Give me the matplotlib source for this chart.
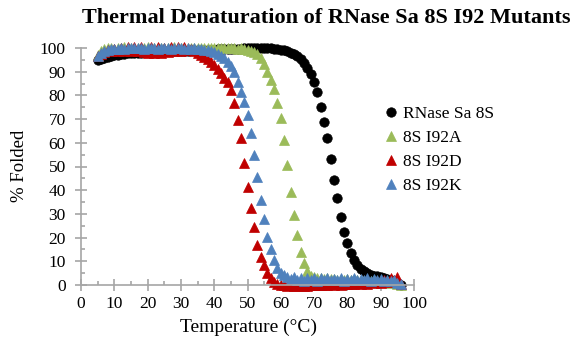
import matplotlib
matplotlib.use("Agg")
import matplotlib.pyplot as plt
from matplotlib.ticker import MultipleLocator

plt.rcParams['font.family'] = ['Liberation Serif', 'DejaVu Serif']

# temperature (C) for every reading
temps = [5, 6, 7, 8, 9, 10, 11, 12, 13, 14,
         15, 16, 17, 18, 19, 20, 21, 22, 23, 24,
         25, 26, 27, 28, 29, 30, 31, 32, 33, 34,
         35, 36, 37, 38, 39, 40, 41, 42, 43, 44,
         45, 46, 47, 48, 49, 50, 51, 52, 53, 54,
         55, 56, 57, 58, 59, 60, 61, 62, 63, 64,
         65, 66, 67, 68, 69, 70, 71, 72, 73, 74,
         75, 76, 77, 78, 79, 80, 81, 82, 83, 84,
         85, 86, 87, 88, 89, 90, 91, 92, 93, 94,
         95, 96]

# % folded
wt_8s = [95.0, 95.5, 95.9, 96.3, 96.6, 96.9, 97.1, 97.3, 97.5, 97.7,
         97.8, 97.9, 98.0, 98.1, 98.2, 98.3, 98.4, 98.4, 98.5, 98.5,
         98.6, 98.6, 98.7, 98.7, 98.8, 98.8, 98.9, 98.9, 99.0, 99.0,
         99.1, 99.1, 99.2, 99.2, 99.3, 99.3, 99.4, 99.4, 99.5, 99.5,
         99.6, 99.6, 99.7, 99.7, 99.8, 99.8, 99.9, 99.9, 100.0, 100.0,
         100.0, 99.9, 99.8, 99.7, 99.5, 99.3, 99.0, 98.6, 98.1, 97.4,
         96.5, 95.3, 93.7, 91.6, 88.9, 85.6, 81.6, 75.2, 68.9, 61.9,
         53.0, 44.3, 36.6, 28.8, 22.5, 17.6, 13.6, 10.6, 8.4, 6.8,
         5.7, 4.9, 4.3, 3.9, 3.6, 3.3, 3.0, 2.7, 2.3, 1.8,
         1.0, 0.0]

i92a = [97.0, 98.6, 99.5, 99.8, 100.2, 99.7, 100.1, 99.9, 100.3, 99.8,
        100.1, 99.9, 100.2, 99.7, 100.0, 100.3, 99.8, 100.1, 99.9, 100.2,
        99.8, 100.1, 100.0, 100.3, 99.8, 100.1, 99.9, 100.2, 99.8, 100.0,
        100.2, 99.9, 100.1, 99.8, 100.2, 99.9, 100.1, 99.8, 100.0, 100.2,
        99.8, 100.0, 99.7, 99.9, 99.5, 99.3, 98.9, 98.4, 97.6, 95.8,
        93.2, 90.0, 86.5, 82.5, 77.0, 70.3, 61.2, 50.6, 39.4, 29.5,
        21.0, 14.0, 9.2, 5.8, 4.0, 3.2, 2.8, 3.1, 2.5, 2.9,
        2.4, 2.7, 2.2, 2.6, 2.1, 2.5, 2.0, 2.4, 1.9, 2.3,
        1.8, 2.2, 1.7, 2.0, 1.5, 1.8, 1.3, 1.5, 1.0, 1.2,
        0.6, 0.0]

i92d = [96.5, 97.6, 98.4, 99.0, 98.6, 99.6, 98.8, 100.2, 98.9, 100.4,
        98.7, 100.3, 98.8, 100.5, 98.5, 97.9, 100.3, 97.8, 100.4, 98.0,
        100.2, 98.4, 100.5, 98.6, 100.3, 98.9, 100.4, 99.0, 99.6, 98.8,
        98.0, 97.2, 96.3, 95.4, 94.3, 93.0, 91.2, 89.3, 87.2, 85.8,
        82.3, 76.7, 69.6, 61.9, 51.3, 41.5, 32.4, 24.6, 16.9, 11.9,
        8.4, 4.9, 2.8, 1.4, 0.6, 0.2, -0.1, -0.3, -0.2, -0.4,
        -0.3, -0.2, -0.4, -0.3, -0.1, 0.0, 0.1, -0.2, 0.2, 0.0,
        0.3, 0.1, 0.4, 0.2, 0.5, 0.3, 0.6, 0.4, 0.8, 0.5,
        0.9, 0.6, 1.2, 0.8, 1.5, 1.0, 2.2, 1.4, 3.0, 2.0,
        3.5, 0.5]

i92k = [96.8, 98.0, 98.8, 99.2, 99.5, 99.7, 99.6, 99.9, 99.7, 100.0,
        99.8, 100.1, 99.8, 100.0, 99.7, 100.1, 99.8, 100.0, 99.7, 100.1,
        99.8, 100.0, 99.7, 100.1, 99.8, 99.9, 99.7, 99.9, 99.6, 99.8,
        99.5, 99.4, 99.2, 99.0, 98.6, 98.2, 97.6, 96.8, 95.7, 94.2,
        92.3, 90.0, 85.8, 81.6, 77.3, 71.7, 64.0, 54.9, 45.7, 35.9,
        27.7, 20.4, 15.0, 10.5, 7.0, 5.0, 4.2, 3.3, 2.4, 3.2,
        2.0, 3.0, 1.8, 2.9, 2.1, 3.1, 1.7, 2.8, 2.2, 3.0,
        1.9, 2.7, 2.3, 3.1, 1.8, 2.6, 2.2, 2.9, 1.9, 2.6,
        2.1, 2.8, 1.7, 2.5, 2.0, 2.7, 1.6, 2.3, 1.5, 1.9,
        1.0, 0.3]

series = [
    (wt_8s, 'RNase Sa 8S', 'o', '#000000'),
    (i92a, '8S I92A', '^', '#9bbb59'),
    (i92d, '8S I92D', '^', '#c00000'),
    (i92k, '8S I92K', '^', '#4f81bd'),
]

fig = plt.figure(figsize=(5.74, 3.43), dpi=100)
ax = fig.add_axes([81 / 574, 58 / 343, 333 / 574, 237 / 343])

for vals, name, mk, col in series:
    ax.plot(temps, vals, linestyle='none', marker=mk, markersize=6.8,
            color=col, markeredgewidth=0.5, label=name, clip_on=False)

ax.set_xlim(0, 100)
ax.set_ylim(0, 100)
ax.xaxis.set_major_locator(MultipleLocator(10))
ax.yaxis.set_major_locator(MultipleLocator(10))
ax.xaxis.set_minor_locator(MultipleLocator(5))
ax.yaxis.set_minor_locator(MultipleLocator(5))

axis_grey = '#a6a6a6'
for side in ['top', 'right']:
    ax.spines[side].set_visible(False)
for side in ['left', 'bottom']:
    ax.spines[side].set_color(axis_grey)
    ax.spines[side].set_linewidth(1.2)
ax.tick_params(which='major', direction='inout', length=8, width=1.2,
               color=axis_grey, labelsize=12.5, labelcolor='black')
ax.tick_params(which='minor', direction='in', length=3, width=1.2,
               color=axis_grey)
ax.tick_params(axis='y', which='major', pad=7)
ax.tick_params(axis='x', which='major', pad=4)

fig.text(326 / 574, 1 - 18 / 343, 'Thermal Denaturation of RNase Sa 8S I92 Mutants',
         ha='center', va='center', fontsize=16, fontweight='bold')
fig.text(20 / 574, 1 - 166 / 343, '% Folded', rotation=90,
         ha='center', va='center', fontsize=13.5)
fig.text(249 / 574, 1 - 327 / 343, 'Temperature (°C)',
         ha='center', va='center', fontsize=14)

ax.legend(loc='upper left', bbox_to_anchor=(384 / 574, 1 - 106 / 343),
          bbox_transform=fig.transFigure, frameon=False, borderpad=0,
          handlelength=0.8, handletextpad=0.3, labelspacing=0.45,
          fontsize=12.5, borderaxespad=0)

fig.savefig('out.png', dpi=100)
